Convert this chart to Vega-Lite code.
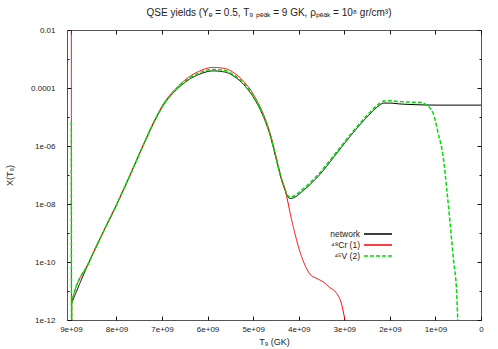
{
  "$schema": "https://vega.github.io/schema/vega-lite/v6.json",
  "width": 414,
  "height": 290,
  "autosize": {"type": "none"},
  "padding": {"left": 67, "top": 30, "right": 17, "bottom": 29},
  "background": "white",
  "config": {
    "view": {"stroke": "#555", "strokeWidth": 1},
    "font": "Liberation Sans"
  },
  "title": {
    "text": "QSE yields (Yₑ = 0.5, T₉ ₚₑₐₖ = 9 GK, ρₚₑₐₖ = 10⁸ gr/cm³)",
    "anchor": "middle",
    "frame": "group",
    "font": "Liberation Sans",
    "fontSize": 10,
    "fontWeight": "normal",
    "color": "#222",
    "offset": 8,
    "dx": -5
  },
  "data": {
    "values": [
      {"s": "network", "T": 8.98e9, "X": 3.89e-12},
      {"s": "network", "T": 8.60e9, "X": 1e-10},
      {"s": "network", "T": 8.30e9, "X": 1e-9},
      {"s": "network", "T": 7.99e9, "X": 1e-8},
      {"s": "network", "T": 7.70e9, "X": 1e-7},
      {"s": "network", "T": 7.42e9, "X": 1e-6},
      {"s": "network", "T": 7.15e9, "X": 7.94e-6},
      {"s": "network", "T": 6.94e9, "X": 3.02e-5},
      {"s": "network", "T": 6.69e9, "X": 8.51e-5},
      {"s": "network", "T": 6.39e9, "X": 2.04e-4},
      {"s": "network", "T": 6.17e9, "X": 3.02e-4},
      {"s": "network", "T": 5.88e9, "X": 3.89e-4},
      {"s": "network", "T": 5.62e9, "X": 3.55e-4},
      {"s": "network", "T": 5.40e9, "X": 2.40e-4},
      {"s": "network", "T": 5.18e9, "X": 1.17e-4},
      {"s": "network", "T": 4.96e9, "X": 3.89e-5},
      {"s": "network", "T": 4.79e9, "X": 1.17e-5},
      {"s": "network", "T": 4.63e9, "X": 2.40e-6},
      {"s": "network", "T": 4.50e9, "X": 3.89e-7},
      {"s": "network", "T": 4.39e9, "X": 7.94e-8},
      {"s": "network", "T": 4.30e9, "X": 3.02e-8},
      {"s": "network", "T": 4.24e9, "X": 1.74e-8},
      {"s": "network", "T": 4.17e9, "X": 1.55e-8},
      {"s": "network", "T": 4.08e9, "X": 1.74e-8},
      {"s": "network", "T": 3.91e9, "X": 2.82e-8},
      {"s": "network", "T": 3.53e9, "X": 1.07e-7},
      {"s": "network", "T": 3.16e9, "X": 5.75e-7},
      {"s": "network", "T": 2.81e9, "X": 2.82e-6},
      {"s": "network", "T": 2.50e9, "X": 1e-5},
      {"s": "network", "T": 2.28e9, "X": 2.19e-5},
      {"s": "network", "T": 2.13e9, "X": 3.02e-5},
      {"s": "network", "T": 2.00e9, "X": 3.02e-5},
      {"s": "network", "T": 1.78e9, "X": 2.82e-5},
      {"s": "network", "T": 0.90e9, "X": 2.57e-5},
      {"s": "network", "T": 0, "X": 2.57e-5},

      {"s": "⁴⁸Cr (1)", "T": 8.99e9, "X": 0.05},
      {"s": "⁴⁸Cr (1)", "T": 8.985e9, "X": 1e-14},
      {"s": "⁴⁸Cr (1)", "T": 8.98e9, "X": 3.89e-12},
      {"s": "⁴⁸Cr (1)", "T": 8.60e9, "X": 1e-10},
      {"s": "⁴⁸Cr (1)", "T": 8.30e9, "X": 1e-9},
      {"s": "⁴⁸Cr (1)", "T": 7.99e9, "X": 1e-8},
      {"s": "⁴⁸Cr (1)", "T": 7.70e9, "X": 1e-7},
      {"s": "⁴⁸Cr (1)", "T": 7.42e9, "X": 1e-6},
      {"s": "⁴⁸Cr (1)", "T": 7.15e9, "X": 8.51e-6},
      {"s": "⁴⁸Cr (1)", "T": 6.94e9, "X": 3.31e-5},
      {"s": "⁴⁸Cr (1)", "T": 6.69e9, "X": 9.77e-5},
      {"s": "⁴⁸Cr (1)", "T": 6.39e9, "X": 2.51e-4},
      {"s": "⁴⁸Cr (1)", "T": 6.17e9, "X": 3.89e-4},
      {"s": "⁴⁸Cr (1)", "T": 5.88e9, "X": 5.13e-4},
      {"s": "⁴⁸Cr (1)", "T": 5.62e9, "X": 4.68e-4},
      {"s": "⁴⁸Cr (1)", "T": 5.40e9, "X": 3.16e-4},
      {"s": "⁴⁸Cr (1)", "T": 5.18e9, "X": 1.51e-4},
      {"s": "⁴⁸Cr (1)", "T": 4.96e9, "X": 4.90e-5},
      {"s": "⁴⁸Cr (1)", "T": 4.79e9, "X": 1.41e-5},
      {"s": "⁴⁸Cr (1)", "T": 4.63e9, "X": 2.82e-6},
      {"s": "⁴⁸Cr (1)", "T": 4.50e9, "X": 4.47e-7},
      {"s": "⁴⁸Cr (1)", "T": 4.39e9, "X": 8.91e-8},
      {"s": "⁴⁸Cr (1)", "T": 4.30e9, "X": 3.16e-8},
      {"s": "⁴⁸Cr (1)", "T": 4.155e9, "X": 2.82e-9},
      {"s": "⁴⁸Cr (1)", "T": 4.01e9, "X": 3.55e-10},
      {"s": "⁴⁸Cr (1)", "T": 3.86e9, "X": 7.59e-11},
      {"s": "⁴⁸Cr (1)", "T": 3.75e9, "X": 3.80e-11},
      {"s": "⁴⁸Cr (1)", "T": 3.60e9, "X": 2.69e-11},
      {"s": "⁴⁸Cr (1)", "T": 3.45e9, "X": 2.0e-11},
      {"s": "⁴⁸Cr (1)", "T": 3.32e9, "X": 1.32e-11},
      {"s": "⁴⁸Cr (1)", "T": 3.20e9, "X": 9.55e-12},
      {"s": "⁴⁸Cr (1)", "T": 3.06e9, "X": 3.55e-12},
      {"s": "⁴⁸Cr (1)", "T": 2.985e9, "X": 1e-12},
      {"s": "⁴⁸Cr (1)", "T": 2.90e9, "X": 2.0e-13},

      {"s": "⁴⁵V (2)", "T": 8.99e9, "X": 6.9e-6},
      {"s": "⁴⁵V (2)", "T": 8.985e9, "X": 1e-14},
      {"s": "⁴⁵V (2)", "T": 8.98e9, "X": 3.89e-12},
      {"s": "⁴⁵V (2)", "T": 8.60e9, "X": 1e-10},
      {"s": "⁴⁵V (2)", "T": 8.30e9, "X": 1e-9},
      {"s": "⁴⁵V (2)", "T": 7.99e9, "X": 1e-8},
      {"s": "⁴⁵V (2)", "T": 7.70e9, "X": 1e-7},
      {"s": "⁴⁵V (2)", "T": 7.42e9, "X": 1e-6},
      {"s": "⁴⁵V (2)", "T": 7.15e9, "X": 8.13e-6},
      {"s": "⁴⁵V (2)", "T": 6.94e9, "X": 3.16e-5},
      {"s": "⁴⁵V (2)", "T": 6.69e9, "X": 9.12e-5},
      {"s": "⁴⁵V (2)", "T": 6.39e9, "X": 2.24e-4},
      {"s": "⁴⁵V (2)", "T": 6.17e9, "X": 3.39e-4},
      {"s": "⁴⁵V (2)", "T": 5.88e9, "X": 4.37e-4},
      {"s": "⁴⁵V (2)", "T": 5.62e9, "X": 3.98e-4},
      {"s": "⁴⁵V (2)", "T": 5.40e9, "X": 2.69e-4},
      {"s": "⁴⁵V (2)", "T": 5.18e9, "X": 1.32e-4},
      {"s": "⁴⁵V (2)", "T": 4.96e9, "X": 4.27e-5},
      {"s": "⁴⁵V (2)", "T": 4.79e9, "X": 1.29e-5},
      {"s": "⁴⁵V (2)", "T": 4.63e9, "X": 2.57e-6},
      {"s": "⁴⁵V (2)", "T": 4.50e9, "X": 4.17e-7},
      {"s": "⁴⁵V (2)", "T": 4.39e9, "X": 8.51e-8},
      {"s": "⁴⁵V (2)", "T": 4.30e9, "X": 3.31e-8},
      {"s": "⁴⁵V (2)", "T": 4.24e9, "X": 1.91e-8},
      {"s": "⁴⁵V (2)", "T": 4.17e9, "X": 1.74e-8},
      {"s": "⁴⁵V (2)", "T": 4.08e9, "X": 2.0e-8},
      {"s": "⁴⁵V (2)", "T": 3.91e9, "X": 3.24e-8},
      {"s": "⁴⁵V (2)", "T": 3.53e9, "X": 1.23e-7},
      {"s": "⁴⁵V (2)", "T": 3.16e9, "X": 6.46e-7},
      {"s": "⁴⁵V (2)", "T": 2.81e9, "X": 3.16e-6},
      {"s": "⁴⁵V (2)", "T": 2.50e9, "X": 1.15e-5},
      {"s": "⁴⁵V (2)", "T": 2.28e9, "X": 2.51e-5},
      {"s": "⁴⁵V (2)", "T": 2.13e9, "X": 3.55e-5},
      {"s": "⁴⁵V (2)", "T": 2.00e9, "X": 3.63e-5},
      {"s": "⁴⁵V (2)", "T": 1.78e9, "X": 3.39e-5},
      {"s": "⁴⁵V (2)", "T": 1.50e9, "X": 3.24e-5},
      {"s": "⁴⁵V (2)", "T": 1.30e9, "X": 3.16e-5},
      {"s": "⁴⁵V (2)", "T": 1.23e9, "X": 2.82e-5},
      {"s": "⁴⁵V (2)", "T": 1.05e9, "X": 1.35e-5},
      {"s": "⁴⁵V (2)", "T": 0.94e9, "X": 2.75e-6},
      {"s": "⁴⁵V (2)", "T": 0.83e9, "X": 4.27e-7},
      {"s": "⁴⁵V (2)", "T": 0.75e9, "X": 3.02e-8},
      {"s": "⁴⁵V (2)", "T": 0.68e9, "X": 2.40e-9},
      {"s": "⁴⁵V (2)", "T": 0.61e9, "X": 1.51e-10},
      {"s": "⁴⁵V (2)", "T": 0.53e9, "X": 6.31e-12},
      {"s": "⁴⁵V (2)", "T": 0.51e9, "X": 1e-12},
      {"s": "⁴⁵V (2)", "T": 0.49e9, "X": 2.5e-13}
    ]
  },
  "encoding": {
    "x": {
      "field": "T",
      "type": "quantitative",
      "scale": {"domain": [0, 9.085e9], "reverse": true, "nice": false, "zero": false},
      "axis": {
        "values": [0, 1e9, 2e9, 3e9, 4e9, 5e9, 6e9, 7e9, 8e9, 9e9],
        "labelExpr": "datum.value == 0 ? '0' : round(datum.value/1e9) + 'e+09'",
        "ticks": false,
        "domain": false,
        "grid": true,
        "gridColor": "#111",
        "gridOpacity": 1,
        "gridWidth": 1,
        "gridDash": [4, 282, 4, 1000],
        "labelFont": "Liberation Sans",
        "labelFontSize": 8,
        "labelColor": "#222",
        "labelPadding": 5,
        "labelOverlap": false,
        "labelFlush": false,
        "title": "T₉ (GK)",
        "titleFont": "Liberation Sans",
        "titleFontSize": 9,
        "titleFontWeight": "normal",
        "titleColor": "#222",
        "titlePadding": 4
      }
    },
    "y": {
      "field": "X",
      "type": "quantitative",
      "scale": {"type": "log", "domain": [1e-12, 0.01], "nice": false},
      "axis": {
        "values": [1e-12, 1e-11, 1e-10, 1e-9, 1e-8, 1e-7, 1e-6, 1e-5, 1e-4, 1e-3, 1e-2],
        "labelExpr": "round(log(datum.value)/LN10) == -2 ? '0.01' : round(log(datum.value)/LN10) == -4 ? '0.0001' : round(log(datum.value)/LN10) == -6 ? '1e-06' : round(log(datum.value)/LN10) == -8 ? '1e-08' : round(log(datum.value)/LN10) == -10 ? '1e-10' : round(log(datum.value)/LN10) == -12 ? '1e-12' : ''",
        "ticks": false,
        "domain": false,
        "grid": true,
        "gridColor": "#111",
        "gridOpacity": 1,
        "gridWidth": 1,
        "gridDash": {"condition": {"test": "abs(round(log(datum.value)/LN10)) % 2 == 1", "value": [2, 410, 2, 1000]}, "value": [4, 406, 4, 1000]},
        "labelFont": "Liberation Sans",
        "labelFontSize": 8,
        "labelColor": "#222",
        "labelPadding": 12,
        "labelOverlap": false,
        "labelFlush": false,
        "title": "X(T₉)",
        "titleFont": "Liberation Sans",
        "titleFontSize": 9,
        "titleFontWeight": "normal",
        "titleColor": "#222",
        "titlePadding": 16
      }
    },
    "color": {
      "field": "s",
      "type": "nominal",
      "scale": {"domain": ["network", "⁴⁸Cr (1)", "⁴⁵V (2)"], "range": ["#000000", "#ff0000", "#00dd00"]},
      "legend": {
        "orient": "none",
        "legendX": 305,
        "legendY": 198,
        "title": null,
        "padding": 0,
        "symbolType": "M-2.8,0L2.8,0",
        "symbolSize": 100,
        "symbolStrokeWidth": 1.5,
        "rowPadding": 0,
        "labelAlign": "right",
        "labelOffset": -24,
        "labelFont": "Liberation Sans",
        "labelFontSize": 8.5,
        "labelColor": "#222"
      }
    },
    "strokeDash": {
      "field": "s",
      "type": "nominal",
      "scale": {"domain": ["network", "⁴⁸Cr (1)", "⁴⁵V (2)"], "range": [[1, 0], [1, 0], [4, 2]]}
    }
  },
  "layer": [
    {
      "transform": [{"filter": "datum.s == 'network'"}],
      "mark": {"type": "line", "clip": true, "strokeWidth": 1, "interpolate": "monotone"}
    },
    {
      "transform": [{"filter": "datum.s == '⁴⁸Cr (1)'"}],
      "mark": {"type": "line", "clip": true, "strokeWidth": 1, "interpolate": "monotone"}
    },
    {
      "transform": [{"filter": "datum.s == '⁴⁵V (2)'"}],
      "mark": {"type": "line", "clip": true, "strokeWidth": 1.5, "interpolate": "monotone"}
    }
  ]
}
